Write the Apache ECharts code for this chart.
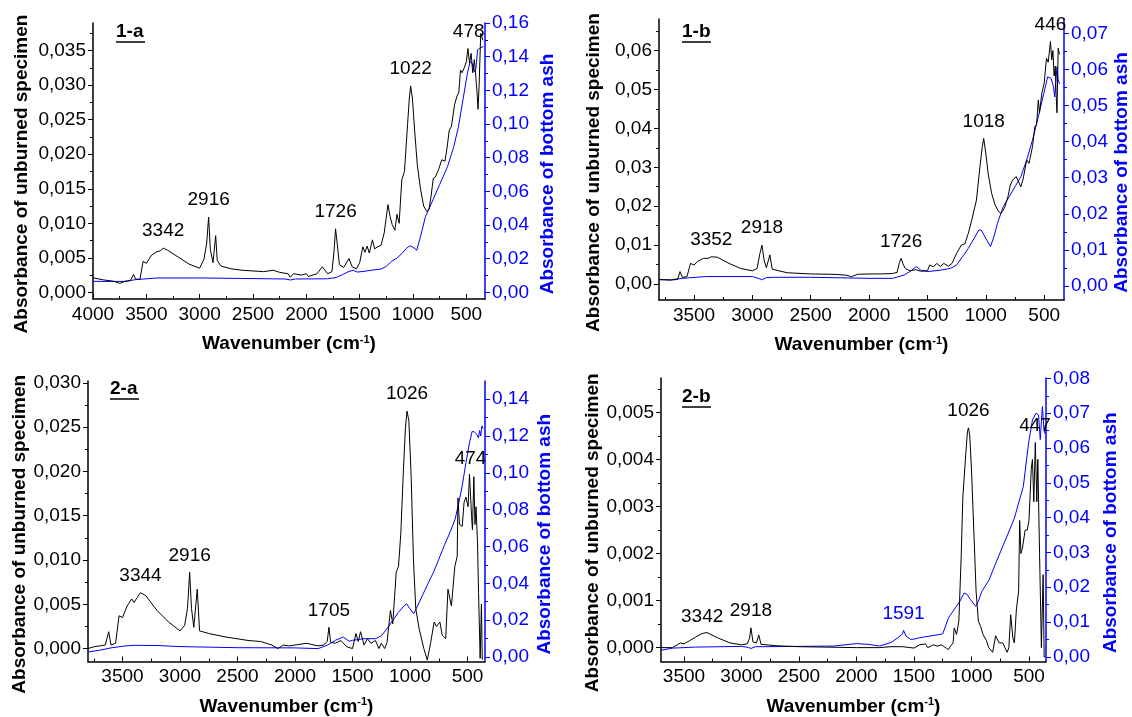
<!DOCTYPE html>
<html>
<head>
<meta charset="UTF-8">
<title>FTIR spectra</title>
<script src="https://cdn.jsdelivr.net/npm/echarts@6/dist/echarts.min.js"></script>
<style>html,body{margin:0;padding:0;background:#fff}</style>
</head>
<body>
<div id="main" style="width:1132px;height:717px"></div>
<script>
var FONT = '"Liberation Sans", Arial, sans-serif';
var BLUE = '#0000ff';

// tick labels
var xTicks = [500, 1000, 1500, 2000, 2500, 3000, 3500, 4000];
var a1LeftTicks = [0, 0.005, 0.01, 0.015, 0.02, 0.025, 0.03, 0.035];
var a1RightTicks = [0, 0.02, 0.04, 0.06, 0.08, 0.1, 0.12, 0.14, 0.16];
var b1LeftTicks = [0, 0.01, 0.02, 0.03, 0.04, 0.05, 0.06];
var b1RightTicks = [0, 0.01, 0.02, 0.03, 0.04, 0.05, 0.06, 0.07];
var a2LeftTicks = [0, 0.005, 0.01, 0.015, 0.02, 0.025, 0.03];
var a2RightTicks = [0, 0.02, 0.04, 0.06, 0.08, 0.1, 0.12, 0.14];
var b2LeftTicks = [0, 0.001, 0.002, 0.003, 0.004, 0.005];
var b2RightTicks = [0, 0.01, 0.02, 0.03, 0.04, 0.05, 0.06, 0.07, 0.08];

// spectra: [wavenumber, absorbance]
var a1Unburned = [[4000,0.0021],[3900,0.0018],[3800,0.0016],[3750,0.0013],[3700,0.0016],[3650,0.0017],[3620,0.0026],[3600,0.0019],[3560,0.0019],[3530,0.0045],[3500,0.0042],[3450,0.0054],[3400,0.0059],[3370,0.0060],[3342,0.0064],[3300,0.0061],[3200,0.0051],[3100,0.0041],[3000,0.0035],[2960,0.0048],[2935,0.0070],[2916,0.0109],[2900,0.0062],[2875,0.0043],[2850,0.0082],[2835,0.0046],[2800,0.0038],[2700,0.0034],[2600,0.0032],[2400,0.0030],[2310,0.0032],[2250,0.0029],[2170,0.0027],[2150,0.0022],[2120,0.0027],[2050,0.0025],[2000,0.0027],[1980,0.0023],[1900,0.0027],[1850,0.0037],[1800,0.0027],[1760,0.0030],[1740,0.0060],[1726,0.0092],[1710,0.0070],[1690,0.0040],[1650,0.0036],[1600,0.0049],[1570,0.0037],[1530,0.0034],[1500,0.0043],[1470,0.0066],[1450,0.0058],[1430,0.0067],[1410,0.0057],[1380,0.0076],[1360,0.0063],[1330,0.0066],[1300,0.0068],[1270,0.0086],[1235,0.0127],[1215,0.0110],[1195,0.0098],[1170,0.0090],[1150,0.0113],[1130,0.0100],[1105,0.0163],[1080,0.0175],[1050,0.0245],[1035,0.0280],[1022,0.0299],[1005,0.0280],[985,0.0235],[960,0.0185],[930,0.0150],[900,0.0125],[870,0.0117],[850,0.0120],[830,0.0140],[810,0.0165],[790,0.0167],[760,0.0178],[730,0.0192],[700,0.0190],[680,0.0210],[660,0.0235],[640,0.0240],[610,0.0272],[590,0.0283],[570,0.0290],[555,0.0322],[540,0.0318],[520,0.0325],[500,0.0334],[485,0.0353],[470,0.0332],[455,0.0346],[440,0.0318],[425,0.0337],[410,0.0310],[400,0.0290],[390,0.0265],[380,0.0300],[365,0.0375],[345,0.0365]];
var a1Ash = [[4000,0.0065],[3800,0.0064],[3700,0.0065],[3600,0.0075],[3400,0.0085],[3000,0.0085],[2600,0.0082],[2200,0.0079],[2150,0.0073],[2100,0.0079],[1800,0.0080],[1720,0.0088],[1660,0.0105],[1600,0.0124],[1560,0.0130],[1520,0.0120],[1450,0.0125],[1400,0.0130],[1300,0.0138],[1250,0.0154],[1200,0.0184],[1150,0.0203],[1100,0.0233],[1060,0.0262],[1030,0.0276],[1000,0.0268],[965,0.0249],[930,0.0330],[883,0.0450],[812,0.0550],[750,0.0640],[677,0.0746],[620,0.0860],[575,0.0980],[530,0.1150],[490,0.1300],[465,0.1370],[445,0.1360],[425,0.1310],[410,0.1330],[395,0.1440],[375,0.1450],[340,0.1460]];
var a1Peaks = [[3342,0.0064],[2916,0.0109],[1726,0.0092],[1022,0.0299],[478,0.0353]];

var b1Unburned = [[3800,0.0012],[3700,0.0010],[3640,0.0012],[3620,0.0032],[3600,0.0017],[3560,0.0019],[3530,0.0053],[3500,0.0049],[3470,0.0058],[3420,0.0066],[3380,0.0066],[3352,0.0070],[3300,0.0069],[3200,0.0053],[3100,0.0040],[3000,0.0034],[2960,0.0040],[2935,0.0079],[2918,0.0100],[2900,0.0062],[2880,0.0042],[2850,0.0075],[2830,0.0038],[2700,0.0029],[2500,0.0026],[2300,0.0025],[2200,0.0023],[2150,0.0019],[2100,0.0025],[2000,0.0026],[1900,0.0026],[1800,0.0027],[1760,0.0030],[1740,0.0055],[1726,0.0066],[1710,0.0052],[1690,0.0040],[1650,0.0034],[1600,0.0037],[1560,0.0033],[1500,0.0034],[1480,0.0049],[1450,0.0044],[1420,0.0053],[1390,0.0045],[1360,0.0053],[1320,0.0046],[1290,0.0053],[1250,0.0079],[1210,0.0100],[1180,0.0103],[1150,0.0130],[1120,0.0165],[1080,0.0216],[1050,0.0302],[1030,0.0353],[1018,0.0374],[1000,0.0336],[980,0.0284],[950,0.0233],[920,0.0203],[890,0.0186],[870,0.0182],[840,0.0195],[810,0.0225],[790,0.0254],[770,0.0267],[740,0.0276],[720,0.0263],[700,0.0250],[680,0.0270],[650,0.0319],[630,0.0310],[600,0.0353],[580,0.0404],[565,0.0410],[550,0.0473],[540,0.0440],[520,0.0490],[500,0.0516],[480,0.0580],[465,0.0570],[446,0.0623],[435,0.0576],[425,0.0600],[415,0.0535],[405,0.0560],[398,0.0490],[390,0.0440],[380,0.0606],[368,0.0590]];
var b1Ash = [[3800,0.0017],[3700,0.0017],[3600,0.0021],[3400,0.0026],[3000,0.0026],[2940,0.0020],[2920,0.0017],[2880,0.0023],[2800,0.0024],[2500,0.0024],[2000,0.0021],[1800,0.0021],[1700,0.0030],[1640,0.0042],[1595,0.0054],[1560,0.0044],[1500,0.0040],[1400,0.0043],[1300,0.0049],[1250,0.0058],[1200,0.0081],[1150,0.0104],[1100,0.0132],[1060,0.0155],[1040,0.0155],[1000,0.0132],[960,0.0109],[930,0.0137],[900,0.0174],[850,0.0220],[800,0.0247],[750,0.0275],[700,0.0303],[650,0.0349],[600,0.0404],[550,0.0469],[500,0.0538],[470,0.0580],[440,0.0575],[420,0.0552],[410,0.0524],[400,0.0566],[390,0.0608],[380,0.0572],[368,0.0560]];
var b1Peaks = [[3352,0.0070],[2918,0.0100],[1726,0.0066],[1018,0.0374],[446,0.0623]];

var a2Unburned = [[3800,0.0000],[3750,0.0002],[3700,0.0003],[3650,0.0004],[3620,0.0019],[3600,0.0004],[3560,0.0006],[3530,0.0037],[3500,0.0035],[3460,0.0048],[3420,0.0056],[3400,0.0052],[3370,0.0058],[3344,0.0063],[3300,0.0060],[3200,0.0043],[3100,0.0030],[3000,0.0020],[2960,0.0026],[2935,0.0045],[2916,0.0086],[2900,0.0045],[2880,0.0024],[2850,0.0067],[2830,0.0020],[2750,0.0017],[2600,0.0013],[2400,0.0009],[2300,0.0008],[2200,0.0004],[2150,0.0000],[2100,0.0004],[2050,0.0003],[2000,0.0004],[1900,0.0006],[1800,0.0003],[1750,0.0004],[1720,0.0008],[1705,0.0024],[1690,0.0007],[1650,0.0006],[1600,0.0009],[1550,0.0002],[1500,0.0000],[1470,0.0017],[1450,0.0008],[1430,0.0019],[1400,0.0004],[1370,0.0011],[1340,0.0006],[1300,0.0009],[1270,0.0000],[1250,0.0006],[1220,0.0000],[1200,0.0007],[1170,0.0043],[1150,0.0028],[1120,0.0086],[1100,0.0093],[1080,0.0130],[1060,0.0194],[1040,0.0249],[1026,0.0268],[1010,0.0257],[990,0.0194],[970,0.0100],[950,0.0045],[920,0.0022],[880,0.0000],[850,-0.0013],[820,0.0007],[790,0.0030],[770,0.0025],[740,0.0030],[720,0.0015],[690,0.0011],[670,0.0067],[640,0.0048],[610,0.0093],[590,0.0104],[583,0.0170],[570,0.0140],[546,0.0138],[530,0.0165],[514,0.0171],[495,0.0160],[483,0.0197],[465,0.0150],[457,0.0134],[445,0.0194],[435,0.0140],[426,0.0160],[413,0.0119],[404,0.0063],[390,-0.0011],[379,0.0050],[372,-0.0012],[365,-0.0012]];
var a2Ash = [[3800,0.0027],[3700,0.0036],[3600,0.0049],[3500,0.0058],[3400,0.0063],[3200,0.0062],[3000,0.0056],[2500,0.0050],[2000,0.0049],[1800,0.0045],[1720,0.0063],[1650,0.0090],[1580,0.0108],[1530,0.0085],[1500,0.0090],[1400,0.0099],[1300,0.0099],[1250,0.0114],[1200,0.0153],[1150,0.0198],[1100,0.0243],[1050,0.0279],[1030,0.0288],[1000,0.0261],[968,0.0234],[906,0.0315],[850,0.0390],[796,0.0460],[750,0.0530],[702,0.0605],[650,0.0680],[608,0.0748],[575,0.0840],[546,0.0930],[515,0.1050],[483,0.1163],[460,0.1225],[440,0.1222],[420,0.1210],[405,0.1190],[395,0.1230],[385,0.1200],[375,0.1255],[365,0.1240]];
var a2Peaks = [[3344,0.0063],[2916,0.0086],[1705,0.0024],[1026,0.0268],[474,0.0195]];

var b2Unburned = [[3700,0.0000],[3600,0.0000],[3530,0.0001],[3500,0.00008],[3450,0.00015],[3400,0.00022],[3380,0.00025],[3342,0.0003],[3300,0.00032],[3200,0.0002],[3100,0.0001],[3000,0.00006],[2950,0.00008],[2930,0.0002],[2918,0.00042],[2900,0.00012],[2870,0.00010],[2850,0.00027],[2830,0.00007],[2700,0.00004],[2500,0.00002],[2000,0.0000],[1800,0.0000],[1700,0.00002],[1600,0.00002],[1500,-0.00001],[1450,0.00006],[1400,0.00008],[1380,0.0],[1330,0.00006],[1300,0.00003],[1260,0.00006],[1220,-0.00001],[1200,-0.00004],[1180,0.00004],[1160,0.0001],[1150,0.00042],[1130,0.00028],[1110,0.00056],[1090,0.0019],[1075,0.0032],[1050,0.0041],[1035,0.0046],[1026,0.00467],[1015,0.0045],[1000,0.0038],[980,0.0025],[960,0.0012],[940,0.00056],[920,0.00045],[900,0.00028],[870,0.00015],[850,0.0],[816,-0.0001],[790,0.00025],[760,0.0001],[728,0.0001],[690,-0.0001],[675,0.0],[659,0.0007],[640,0.0002],[627,0.0001],[610,0.0008],[590,0.0012],[581,0.0027],[570,0.0020],[558,0.0021],[533,0.0025],[515,0.0025],[500,0.0027],[480,0.0038],[470,0.0040],[458,0.0031],[445,0.00436],[432,0.0031],[423,0.0040],[408,0.0020],[392,0.0],[377,0.00155],[368,-0.0002],[360,-0.0002]];
var b2Ash = [[3700,0.0019],[3600,0.0025],[3400,0.0028],[3000,0.0030],[2940,0.0027],[2918,0.0024],[2880,0.0029],[2500,0.0030],[2200,0.0031],[2000,0.0038],[1900,0.0036],[1800,0.0031],[1700,0.0041],[1640,0.0055],[1600,0.0066],[1591,0.0076],[1570,0.0060],[1530,0.0050],[1500,0.0051],[1450,0.0055],[1300,0.0063],[1250,0.0066],[1200,0.0112],[1150,0.0136],[1100,0.0160],[1065,0.0183],[1040,0.0180],[1010,0.0165],[963,0.0145],[940,0.0160],[910,0.0188],[847,0.0221],[784,0.0273],[706,0.0335],[628,0.0397],[549,0.0490],[503,0.0615],[470,0.0680],[439,0.0700],[417,0.0695],[402,0.0624],[392,0.0676],[383,0.0719],[370,0.0653],[360,0.0640]];
var b2Peaks = [[3342,0.0003],[2918,0.00042],[1026,0.00467],[447,0.00436]];
var b2AshPeaks = [[1591,0.0076]];

// layout of the four panels
var panels = [
  {tag: '1-a', grid: {left: 93, top: 23, width: 392, height: 276}, x: [325, 4000],
   yl: [-0.00096, 0.039], yr: [-0.004, 0.16], lTicks: a1LeftTicks, rTicks: a1RightTicks,
   lDec: 3, rDec: 2, lGap: 62, rGap: 53, tagAt: [116, 32],
   black: a1Unburned, blue: a1Ash, peaks: a1Peaks, bluePeaks: []},
  {tag: '1-b', grid: {left: 659, top: 19, width: 407, height: 281}, x: [330, 3800],
   yl: [-0.0041, 0.0681], yr: [-0.0039, 0.074], lTicks: b1LeftTicks, rTicks: b1RightTicks,
   lDec: 2, rDec: 2, lGap: 56, rGap: 48, tagAt: [682, 32],
   black: b1Unburned, blue: b1Ash, peaks: b1Peaks, bluePeaks: []},
  {tag: '2-a', grid: {left: 88, top: 381, width: 397, height: 282}, x: [348, 3800],
   yl: [-0.00146, 0.0302], yr: [-0.0025, 0.1499], lTicks: a2LeftTicks, rTicks: a2RightTicks,
   lDec: 3, rDec: 2, lGap: 57, rGap: 50, tagAt: [110, 389],
   black: a2Unburned, blue: a2Ash, peaks: a2Peaks, bluePeaks: []},
  {tag: '2-b', grid: {left: 661, top: 378, width: 385, height: 286}, x: [352, 3700],
   yl: [-0.000295, 0.00573], yr: [-0.00134, 0.0801], lTicks: b2LeftTicks, rTicks: b2RightTicks,
   lDec: 3, rDec: 2, lGap: 59, rGap: 55, tagAt: [682, 397],
   black: b2Unburned, blue: b2Ash, peaks: b2Peaks, bluePeaks: b2AshPeaks}
];

function inRange(list, min, max) {
  return list.filter(function (v) { return v >= min - 1e-9 && v <= max + 1e-9; });
}
// half-way ticks between the labelled ones
function halfTicks(list, min, max) {
  var step = list[1] - list[0];
  var out = [list[0] - step / 2];
  list.forEach(function (v) { out.push(+(v + step / 2).toFixed(6)); });
  return inRange(out, min, max);
}
function fmt(dec) {
  return function (v) { return v.toFixed(dec).replace('.', ','); };
}

function peakMarks(list, color) {
  return {
    symbol: 'circle', symbolSize: 1, silent: true, animation: false,
    itemStyle: {color: 'rgba(0,0,0,0)'},
    label: {show: true, position: 'inside', offset: [0, -17], color: color,
            fontSize: 19, fontFamily: FONT, formatter: '{b}'},
    data: list.map(function (d) { return {name: String(d[0]), coord: [d[0], d[1]]}; })
  };
}

var grids = [], xAxes = [], yAxes = [], series = [], graphics = [];

panels.forEach(function (p, i) {
  grids.push(p.grid);
  var xt = inRange(xTicks, p.x[0], p.x[1]);
  xAxes.push({
    type: 'value', gridIndex: i, position: 'bottom', inverse: true, min: p.x[0], max: p.x[1],
    name: 'Wavenumber (cm{sup|-1})', nameLocation: 'middle', nameGap: 35,
    nameTextStyle: {fontSize: 19, fontWeight: 'bold', color: '#000', fontFamily: FONT,
      rich: {sup: {fontSize: 11, fontWeight: 'bold', color: '#000', fontFamily: FONT, verticalAlign: 'top', padding: [0, 0, 9, 0]}}},
    axisLine: {onZero: false, lineStyle: {color: '#000', width: 1.5}},
    axisTick: {inside: true, length: 5, customValues: xt, lineStyle: {color: '#000'}},
    axisLabel: {customValues: xt, fontSize: 19, color: '#000', fontFamily: FONT, margin: 6,
      formatter: function (v) { return String(v); }},
    splitLine: {show: false}
  }, {
    type: 'value', gridIndex: i, position: 'bottom', inverse: true, min: p.x[0], max: p.x[1],
    axisLine: {show: false, onZero: false},
    axisTick: {inside: true, length: 3, customValues: halfTicks(xTicks, p.x[0], p.x[1]), lineStyle: {color: '#000'}},
    axisLabel: {show: false}, splitLine: {show: false}
  });

  function yPair(side, range, ticks, dec, color, name, gap) {
    var t = inRange(ticks, range[0], range[1]);
    return [{
      type: 'value', gridIndex: i, position: side, min: range[0], max: range[1],
      name: name, nameLocation: 'middle', nameGap: gap,
      nameTextStyle: {fontSize: 19, fontWeight: 'bold', color: color, fontFamily: FONT, padding: [0, 26, 0, 0]},
      axisLine: {show: true, onZero: false, lineStyle: {color: color, width: 1.5}},
      axisTick: {show: true, length: 5, customValues: t, lineStyle: {color: color}},
      axisLabel: {customValues: t, fontSize: 19, color: color, fontFamily: FONT, margin: 7, formatter: fmt(dec)},
      splitLine: {show: false}
    }, {
      type: 'value', gridIndex: i, position: side, min: range[0], max: range[1],
      axisLine: {show: false, onZero: false},
      axisTick: {show: true, length: 3, customValues: halfTicks(ticks, range[0], range[1]), lineStyle: {color: color}},
      axisLabel: {show: false}, splitLine: {show: false}
    }];
  }
  yAxes = yAxes.concat(yPair('left', p.yl, p.lTicks, p.lDec, '#000', 'Absorbance of unburned specimen', p.lGap));
  yAxes = yAxes.concat(yPair('right', p.yr, p.rTicks, p.rDec, BLUE, 'Absorbance of bottom ash', p.rGap));

  series.push({
    type: 'line', xAxisIndex: 2 * i, yAxisIndex: 4 * i + 2, data: p.blue,
    symbol: 'none', silent: true, z: 2, lineStyle: {color: BLUE, width: 1},
    markPoint: peakMarks(p.bluePeaks, BLUE)
  });
  series.push({
    type: 'line', xAxisIndex: 2 * i, yAxisIndex: 4 * i, data: p.black,
    symbol: 'none', silent: true, z: 3, lineStyle: {color: '#000', width: 1},
    markPoint: peakMarks(p.peaks, '#000')
  });

  graphics.push({
    type: 'text', x: p.tagAt[0], y: p.tagAt[1],
    style: {text: p.tag, font: 'bold 19px ' + FONT, fill: '#000', verticalAlign: 'middle'}
  }, {
    type: 'line', shape: {x1: p.tagAt[0], y1: p.tagAt[1] + 10, x2: p.tagAt[0] + 29, y2: p.tagAt[1] + 10},
    style: {stroke: '#000', lineWidth: 1.5}
  });
});

var myChart = echarts.init(document.getElementById('main'));
myChart.setOption({
  animation: false,
  backgroundColor: '#fff',
  textStyle: {fontFamily: FONT},
  grid: grids,
  xAxis: xAxes,
  yAxis: yAxes,
  series: series,
  graphic: graphics
});
</script>
</body>
</html>
